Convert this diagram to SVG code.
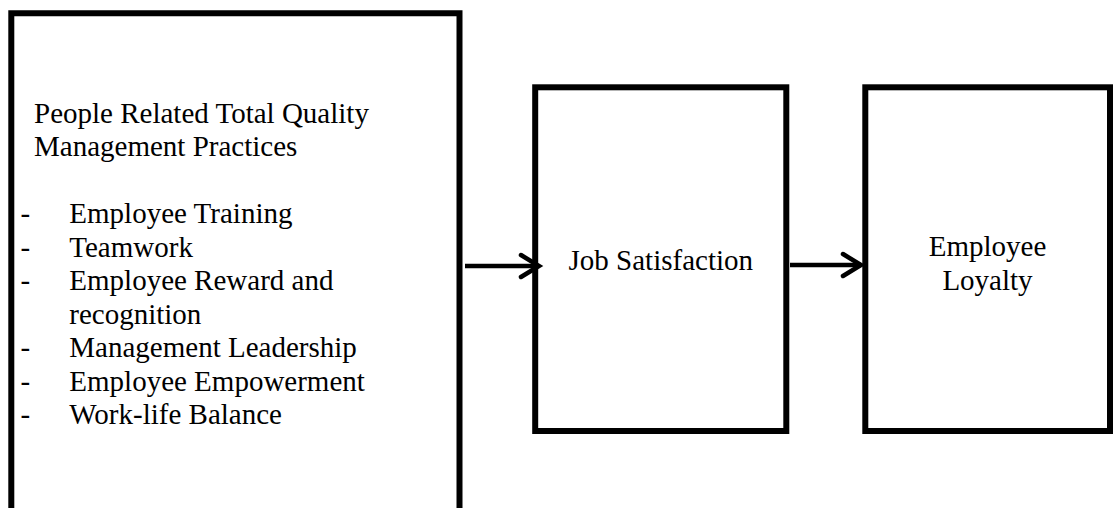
<svg xmlns="http://www.w3.org/2000/svg" width="1113" height="508" viewBox="0 0 1113 508">
  <style>
    .box { fill: none; stroke: #000; stroke-width: 6; }
    .link { fill: none; stroke: #000; stroke-width: 4.5; }
    .head { fill: none; stroke: #000; stroke-width: 4.5; stroke-linecap: round; stroke-linejoin: miter; }
    text { font-family: "Liberation Serif", "Times New Roman", serif; font-size: 29px; fill: #000; }
    .mid { text-anchor: middle; }
  </style>
  <rect width="1113" height="508" fill="#fff"/>

  <!-- Left: people related TQM practices (box runs off the bottom edge) -->
  <g id="node-tqm-practices">
    <path class="box" d="M11.3,520 V13.3 H459.5 V520"/>
    <text x="34" y="122.5">People Related Total Quality</text>
    <text x="34" y="156">Management Practices</text>
    <text x="20.5" y="223">-</text>
    <text x="69.3" y="223">Employee Training</text>
    <text x="20.5" y="256.5">-</text>
    <text x="69.3" y="256.5">Teamwork</text>
    <text x="20.5" y="290">-</text>
    <text x="69.3" y="290">Employee Reward and</text>
    <text x="69.3" y="323.5">recognition</text>
    <text x="20.5" y="357">-</text>
    <text x="69.3" y="357">Management Leadership</text>
    <text x="20.5" y="390.5">-</text>
    <text x="69.3" y="390.5">Employee Empowerment</text>
    <text x="20.5" y="424">-</text>
    <text x="69.3" y="424">Work-life Balance</text>
  </g>

  <!-- Middle: job satisfaction -->
  <g id="node-job-satisfaction">
    <rect class="box" x="535.2" y="87.3" width="251.1" height="343.7"/>
    <text class="mid" x="660.8" y="269.5">Job Satisfaction</text>
  </g>

  <!-- Right: employee loyalty -->
  <g id="node-employee-loyalty">
    <rect class="box" x="865.3" y="87.3" width="244.7" height="343.7"/>
    <text class="mid" x="987.5" y="256">Employee</text>
    <text class="mid" x="987.5" y="289.5">Loyalty</text>
  </g>

  <!-- Connectors -->
  <g id="connectors">
    <line class="link" x1="465" y1="266" x2="538" y2="266"/>
    <path class="head" d="M521,255 L539,266 L521,277"/>
    <line class="link" x1="790" y1="265" x2="861" y2="265"/>
    <path class="head" d="M843,254 L861,265 L843,276"/>
  </g>
</svg>
